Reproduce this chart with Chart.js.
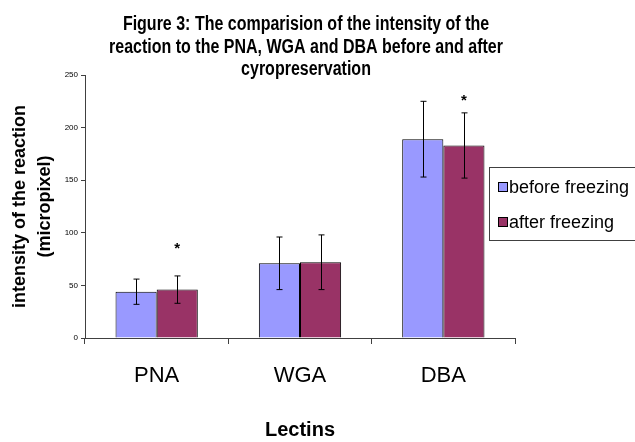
<!DOCTYPE html>
<html lang="en">
<head>
<meta charset="UTF-8">
<title>Figure 3</title>
<script src="https://cdn.jsdelivr.net/npm/chart.js@4.4.1/dist/chart.umd.min.js"></script>
<style>
  html, body { margin: 0; padding: 0; background: #fff; }
  #wrap { width: 635px; height: 442px; position: relative; }
</style>
</head>
<body>
<div id="wrap"><canvas id="lectins"></canvas></div>
<script>
// data
var lectins = ['PNA', 'WGA', 'DBA'];
var beforeFreezing = [44, 71, 189];
var afterFreezing = [46, 72, 183];
var beforeErr = [12, 25, 36];
var afterErr = [13, 26, 31];
// significance stars (value where the * sits, null = none)
var afterStars = [87, null, 227];
var yTicks = [0, 50, 100, 150, 200, 250];

var SANS = '"Liberation Sans", Arial, sans-serif';
var titleLines = [
    'Figure 3: The comparision of the intensity of the',
    'reaction to the PNA, WGA and DBA before and after',
    'cyropreservation'
];

var extras = {
    id: 'extras',
    afterDatasetsDraw: function(chart) {
        var ctx = chart.ctx;
        var y = chart.scales.y;
        ctx.save();
        ctx.strokeStyle = '#000';
        ctx.lineWidth = 1;
        [[beforeErr, beforeFreezing], [afterErr, afterFreezing]].forEach(function(pair, di) {
            var meta = chart.getDatasetMeta(di);
            meta.data.forEach(function(bar, i) {
                var v = pair[1][i], e = pair[0][i];
                var x = Math.round(bar.x) + 0.5;
                var top = y.getPixelForValue(v + e), bot = y.getPixelForValue(v - e);
                ctx.beginPath();
                ctx.moveTo(x, top); ctx.lineTo(x, bot);
                ctx.moveTo(x - 3, top); ctx.lineTo(x + 3, top);
                ctx.moveTo(x - 3, bot); ctx.lineTo(x + 3, bot);
                ctx.stroke();
            });
        });
        // stars
        var meta1 = chart.getDatasetMeta(1);
        ctx.fillStyle = '#000';
        ctx.font = 'bold 15px ' + SANS;
        ctx.textAlign = 'center';
        ctx.textBaseline = 'middle';
        afterStars.forEach(function(s, i) {
            if (s == null) return;
            ctx.fillText('*', meta1.data[i].x, y.getPixelForValue(s) + 2);
        });
        ctx.restore();
    },
    afterDraw: function(chart) {
        var ctx = chart.ctx;
        ctx.save();
        // title, set in a narrow face like the original
        ctx.fillStyle = '#000';
        ctx.font = 'bold 20px ' + SANS;
        ctx.textAlign = 'center';
        ctx.textBaseline = 'alphabetic';
        titleLines.forEach(function(t, i) {
            ctx.save();
            ctx.translate(306, 30 + i * 22.5);
            ctx.scale(0.8, 1);
            ctx.fillText(t, 0, 0);
            ctx.restore();
        });
        // legend
        ctx.lineWidth = 1;
        ctx.strokeStyle = '#404040';
        ctx.fillStyle = '#fff';
        ctx.fillRect(489, 167, 160, 73);
        ctx.strokeRect(489.5, 167.5, 160, 73);
        var items = [['before freezing', '#9999ff'], ['after freezing', '#993366']];
        ctx.font = '18px ' + SANS;
        ctx.textAlign = 'left';
        items.forEach(function(it, i) {
            var yy = 182 + i * 35;
            ctx.fillStyle = it[1];
            ctx.fillRect(498, yy, 9, 9);
            ctx.strokeStyle = '#000';
            ctx.strokeRect(498.5, yy + 0.5, 9, 9);
            ctx.fillStyle = '#000';
            ctx.fillText(it[0], 509, yy + 11);
        });
        ctx.restore();
    }
};

new Chart(document.getElementById('lectins'), {
    type: 'bar',
    data: {
        labels: lectins,
        datasets: [{
            label: 'before freezing',
            data: beforeFreezing,
            backgroundColor: '#9999ff',
            borderColor: '#000',
            borderWidth: 1,
            categoryPercentage: 0.574,
            barPercentage: 1.0
        }, {
            label: 'after freezing',
            data: afterFreezing,
            backgroundColor: '#993366',
            borderColor: '#000',
            borderWidth: 1,
            categoryPercentage: 0.574,
            barPercentage: 1.0
        }]
    },
    options: {
        responsive: true,
        maintainAspectRatio: false,
        animation: false,
        layout: { padding: { top: 75, right: 120, left: 0, bottom: 0 } },
        plugins: {
            legend: { display: false },
            title: { display: false },
            tooltip: { enabled: false }
        },
        scales: {
            x: {
                offset: true,
                grid: { offset: true, drawOnChartArea: false, tickLength: 6, color: '#404040' },
                border: { color: '#404040', width: 1 },
                ticks: { color: '#000', font: { family: SANS, size: 22 }, padding: 19 },
                title: {
                    display: true, text: 'Lectins', color: '#000',
                    font: { family: SANS, size: 20, weight: 'bold' },
                    padding: { top: 0, bottom: 0 }
                },
                afterFit: function(s) { s.height = 104; }
            },
            y: {
                min: 0, max: 250,
                afterBuildTicks: function(s) { s.ticks = yTicks.map(function(v) { return { value: v }; }); },
                grid: { drawOnChartArea: false, tickLength: 4, color: '#404040' },
                border: { color: '#404040', width: 1 },
                ticks: { color: '#000', font: { family: SANS, size: 8 }, padding: 3 },
                title: {
                    display: true, text: ['intensity of the reaction', '(micropixel)'], color: '#000',
                    font: { family: SANS, size: 18, weight: 'bold', lineHeight: 1.4 },
                    padding: { top: 7, bottom: 0 }
                },
                afterFit: function(s) { s.width = 85; }
            }
        }
    },
    plugins: [extras]
});
</script>
</body>
</html>
